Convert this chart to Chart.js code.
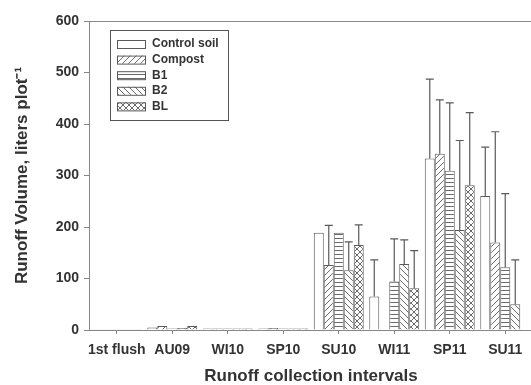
<!DOCTYPE html>
<html>
<head>
<meta charset="utf-8">
<script src="https://cdn.jsdelivr.net/npm/chart.js@4.4.1/dist/chart.umd.min.js"></script>
<style>
    html, body { margin: 0; padding: 0; background: #fff; overflow: hidden; }
    #wrap { width: 545px; height: 385px; }
</style>
</head>
<body>
<div id="wrap"><canvas id="runoffChart" width="545" height="385"></canvas></div>
<script>
// Data
const intervals = ['1st flush', 'AU09', 'WI10', 'SP10', 'SU10', 'WI11', 'SP11', 'SU11'];
const treatments = ['Control soil', 'Compost', 'B1', 'B2', 'BL'];

const controlSoil = [0.5, 5, 3, 3, 189, 65, 333, 260];
const compost     = [0.5, 8, 3, 4, 126, 1, 342, 170];
const b1          = [0.5, 3, 3, 3, 189, 94, 309, 122];
const b2          = [0.5, 4, 3, 3, 116, 128, 194, 50];
const bl          = [0.5, 8, 3, 3, 165, 81, 281, 1];

// upper error (standard deviation)
const controlErr = [0, 0, 0, 0, 0, 71, 154, 95];
const compostErr = [0, 0, 0, 0, 77, 0, 105, 215];
const b1Err      = [0, 0, 0, 0, 0, 83, 132, 143];
const b2Err      = [0, 0, 0, 0, 55, 47, 174, 86];
const blErr      = [0, 0, 0, 0, 39, 73, 141, 0];

const yTicks = [0, 100, 200, 300, 400, 500, 600];

const FONT = '"Liberation Sans", Arial, sans-serif';
const LINE = '#5a5a5a';

// Make a hatch fill for the bars
function makePattern(kind) {
    const size = kind === 'horiz' ? 4 : 6;
    const c = document.createElement('canvas');
    c.width = size;
    c.height = size;
    const g = c.getContext('2d');
    g.fillStyle = '#fff';
    g.fillRect(0, 0, size, size);
    g.strokeStyle = '#6a6a6a';
    g.lineWidth = 1;
    g.beginPath();
    if (kind === 'fwd' || kind === 'cross') {
        g.moveTo(0, size); g.lineTo(size, 0);
        g.moveTo(-1, 1); g.lineTo(1, -1);
        g.moveTo(size - 1, size + 1); g.lineTo(size + 1, size - 1);
    }
    if (kind === 'back' || kind === 'cross') {
        g.moveTo(0, 0); g.lineTo(size, size);
        g.moveTo(size - 1, -1); g.lineTo(size + 1, 1);
        g.moveTo(-1, size - 1); g.lineTo(1, size + 1);
    }
    if (kind === 'horiz') {
        g.moveTo(0, 2.5); g.lineTo(size, 2.5);
    }
    g.stroke();
    return g.createPattern(c, 'repeat');
}

const fills = ['#ffffff', makePattern('fwd'), makePattern('horiz'), makePattern('back'), makePattern('cross')];
const seriesData = [controlSoil, compost, b1, b2, bl];
const seriesErr = [controlErr, compostErr, b1Err, b2Err, blErr];

// Draw upper error whiskers
const errorBars = {
    id: 'errorBars',
    afterDatasetsDraw(chart) {
        const ctx = chart.ctx;
        const y = chart.scales.y;
        ctx.save();
        ctx.strokeStyle = LINE;
        ctx.lineWidth = 1.2;
        chart.data.datasets.forEach((ds, i) => {
            const meta = chart.getDatasetMeta(i);
            meta.data.forEach((bar, j) => {
                const err = ds.errors[j];
                if (!err) return;
                const top = y.getPixelForValue(ds.data[j] + err);
                ctx.beginPath();
                ctx.moveTo(bar.x, bar.y);
                ctx.lineTo(bar.x, top);
                ctx.moveTo(bar.x - 4, top);
                ctx.lineTo(bar.x + 4, top);
                ctx.stroke();
            });
        });
        ctx.restore();
    }
};

// Top frame line and boxed legend
const frameAndLegend = {
    id: 'frameAndLegend',
    afterDraw(chart) {
        const ctx = chart.ctx;
        const area = chart.chartArea;
        ctx.save();
        ctx.strokeStyle = '#888';
        ctx.lineWidth = 1;
        ctx.beginPath();
        ctx.moveTo(area.left, area.top + 0.5);
        ctx.lineTo(chart.width, area.top + 0.5);
        ctx.stroke();

        // legend box
        const lx = 110, ly = 30, lw = 118, lh = 90;
        ctx.strokeStyle = '#555';
        ctx.strokeRect(lx + 0.5, ly + 0.5, lw, lh);
        ctx.font = 'bold 12px ' + FONT;
        ctx.textBaseline = 'middle';
        chart.data.datasets.forEach((ds, i) => {
            const cy = 44 + i * 15.6;
            ctx.fillStyle = ds.backgroundColor;
            ctx.fillRect(117, cy - 4, 28, 8);
            ctx.strokeStyle = LINE;
            ctx.strokeRect(117.5, cy - 3.5, 28, 8);
            ctx.fillStyle = '#333';
            ctx.fillText(ds.label, 152, cy);
        });
        ctx.restore();
    }
};

const ctx = document.getElementById('runoffChart').getContext('2d');

new Chart(ctx, {
    type: 'bar',
    data: {
        labels: intervals,
        datasets: treatments.map((name, i) => ({
            label: name,
            data: seriesData[i],
            errors: seriesErr[i],
            backgroundColor: fills[i],
            borderColor: LINE,
            borderWidth: 1,
            categoryPercentage: 0.9,
            barPercentage: 1.0
        }))
    },
    options: {
        responsive: false,
        animation: false,
        layout: { padding: { left: 0, right: 12, top: 21, bottom: 0 } },
        plugins: {
            legend: { display: false },
            tooltip: { enabled: false }
        },
        scales: {
            x: {
                grid: { offset: false, drawOnChartArea: false, tickLength: 4, color: '#888' },
                border: { color: '#888' },
                ticks: { color: '#333', font: { family: FONT, size: 14, weight: 'bold' }, padding: 8, maxRotation: 0, autoSkip: false },
                title: {
                    display: true,
                    text: 'Runoff collection intervals',
                    color: '#333',
                    font: { family: FONT, size: 17, weight: 'bold' },
                    padding: { top: 0, bottom: -2 }
                },
                afterFit(scale) { scale.height = 55; }
            },
            y: {
                min: 0,
                max: 600,
                afterBuildTicks(scale) { scale.ticks = yTicks.map(v => ({ value: v })); },
                grid: { drawOnChartArea: false, tickLength: 5, color: '#888' },
                border: { color: '#888' },
                ticks: { color: '#333', font: { family: FONT, size: 14, weight: 'bold' }, padding: 5 },
                title: {
                    display: true,
                    text: 'Runoff Volume, liters plot\u207B\u00B9',
                    color: '#333',
                    font: { family: FONT, size: 17, weight: 'bold' },
                    padding: { top: 12, bottom: 0 }
                },
                afterFit(scale) { scale.width = 89; }
            }
        }
    },
    plugins: [errorBars, frameAndLegend]
});
</script>
</body>
</html>
